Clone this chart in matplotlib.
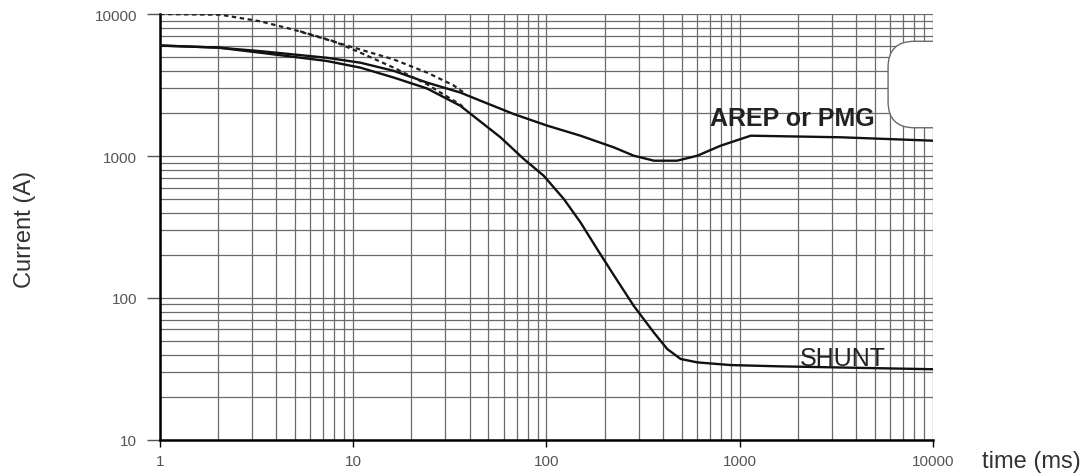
import matplotlib
matplotlib.use('Agg')
import matplotlib.pyplot as plt
from matplotlib.ticker import LogLocator, NullFormatter, FixedLocator, FixedFormatter
from matplotlib.patches import FancyBboxPatch
import numpy as np

plt.rcParams['font.family'] = ['Liberation Sans', 'DejaVu Sans']

# curves (time in ms, current in A)
arep_t = [1, 2, 3.3, 7.3, 10.9, 16.2, 24.1, 35.8, 45.5, 67.6, 101, 150, 223, 283, 360, 475, 604, 797, 1140, 3335, 10000]
arep_a = [6000, 5800, 5480, 4920, 4540, 3980, 3290, 2800, 2453, 1977, 1636, 1390, 1151, 1005, 927, 927, 1005, 1182, 1390, 1355, 1282]

shunt_t = [1, 2, 3.3, 7.3, 10.9, 16.2, 24.1, 35.8, 45.5, 57.8, 76.3, 96.8, 123, 150, 183, 223, 283, 360, 422, 495, 604, 898, 1630, 10000]
shunt_a = [6000, 5800, 5340, 4670, 4190, 3570, 2990, 2260, 1750, 1355, 953, 726, 498, 341, 221, 145, 88, 57, 43.7, 37.2, 35.2, 33.7, 33, 31.5]

dash_hi_t = [1, 2.05, 3.3, 4.9, 7.3, 10.9, 16.2, 24.1, 33, 38]
dash_hi_a = [10000, 9890, 8890, 7770, 6610, 5620, 4790, 3870, 3150, 2750]

dash_lo_t = [5.3, 7.9, 10.9, 16.2, 24.1, 35.8, 38]
dash_lo_a = [7560, 6440, 5340, 4190, 3200, 2300, 2150]

x_ticks = [1, 10, 100, 1000, 10000]
x_labels = ['1', '10', '100', '1000', '10000']
y_ticks = [10, 100, 1000, 10000]
y_labels = ['10', '100', '1000', '10000']

fig = plt.figure(figsize=(10.81, 4.77), dpi=100)
ax = fig.add_axes([0.148, 0.0755, 0.715, 0.893])

ax.set_xscale('log')
ax.set_yscale('log')
ax.set_xlim(1, 10000)
ax.set_ylim(10, 10000)

ax.xaxis.set_major_locator(FixedLocator(x_ticks))
ax.xaxis.set_major_formatter(FixedFormatter(x_labels))
ax.yaxis.set_major_locator(FixedLocator(y_ticks))
ax.yaxis.set_major_formatter(FixedFormatter(y_labels))
ax.xaxis.set_minor_locator(LogLocator(base=10, subs=np.arange(2, 10), numticks=20))
ax.yaxis.set_minor_locator(LogLocator(base=10, subs=np.arange(2, 10), numticks=20))
ax.xaxis.set_minor_formatter(NullFormatter())
ax.yaxis.set_minor_formatter(NullFormatter())

ax.grid(True, which='both', color='#6a6a6a', linewidth=0.9)
ax.set_axisbelow(True)

ax.tick_params(which='minor', length=0)
ax.tick_params(axis='x', which='major', direction='out', length=5, width=1, pad=5,
               labelsize=11, labelcolor='#555555')
ax.tick_params(axis='y', which='major', direction='out', length=9.5, width=1, pad=7,
               labelsize=11, labelcolor='#555555', color='#555555')

ax.spines['top'].set_visible(False)
ax.spines['right'].set_visible(False)
ax.spines['left'].set_linewidth(1.8)
ax.spines['bottom'].set_linewidth(1.8)

# white rounded cut-out at top right
notch = FancyBboxPatch((0.942, 0.733), 0.12, 0.203, transform=ax.transAxes,
                       boxstyle='round,pad=0,rounding_size=0.034', mutation_aspect=1.8,
                       facecolor='white', edgecolor='#6a6a6a', linewidth=1.0, zorder=1.5)
ax.add_patch(notch)

ax.plot(arep_t, arep_a, color='#111111', linewidth=1.7, zorder=3)
ax.plot(shunt_t, shunt_a, color='#111111', linewidth=1.7, zorder=3)
ax.plot(dash_hi_t, dash_hi_a, color='#222222', linewidth=1.6, dashes=(2, 1.6), zorder=3)
ax.plot(dash_lo_t, dash_lo_a, color='#222222', linewidth=1.6, dashes=(2, 1.6), zorder=3)

ax.text(1880, 1845, 'AREP or PMG', fontsize=18, fontweight='bold', color='#222222',
        ha='center', va='center', zorder=4)
ax.text(3420, 38, 'SHUNT', fontsize=18, color='#222222', ha='center', va='center', zorder=4)

fig.text(0.023, 1 - 229 / 477, 'Current (A)', rotation=90, fontsize=17, color='#333333',
         ha='center', va='center')
fig.text(982 / 1081, 1 - 462 / 477, 'time (ms)', fontsize=17, color='#333333',
         ha='left', va='center')

fig.savefig('out.png', dpi=100)
